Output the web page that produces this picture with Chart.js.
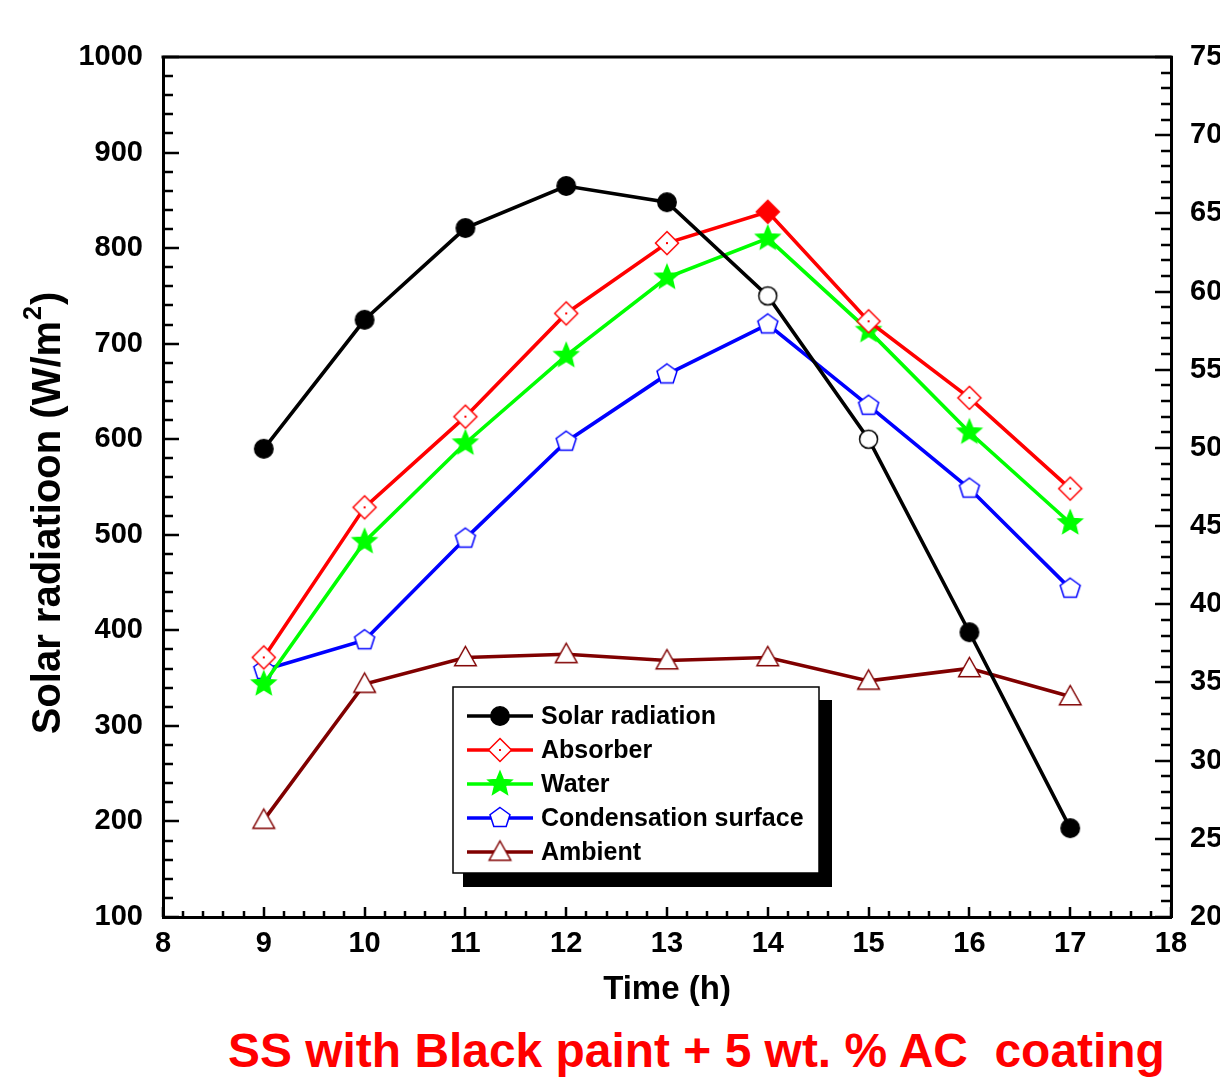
<!DOCTYPE html>
<html><head><meta charset="utf-8">
<script src="https://cdn.jsdelivr.net/npm/chart.js@4/dist/chart.umd.min.js"></script>
<style>
html,body{margin:0;padding:0;background:#fff;width:1220px;height:1079px;overflow:hidden}
#wrap{position:absolute;left:0;top:0;width:1220px;height:1010px}
#cap{position:absolute;left:228px;top:1027px;font-family:"Liberation Sans",Arial,sans-serif;font-weight:bold;font-size:48px;color:#f00;line-height:48px;white-space:pre}
</style></head><body>
<div id="wrap"><canvas id="c" width="1220" height="1010"></canvas></div>
<div id="cap">SS with Black paint + 5 wt. % AC  coating</div>
<script>
// ---- data ----
const hours = [9, 10, 11, 12, 13, 14, 15, 16, 17];
const solarRadiation = [590, 725, 821, 865, 848, 750, 600, 398, 193];
const absorberTemp = [36.6, 46.2, 52.0, 58.6, 63.1, 65.1, 58.1, 53.2, 47.4];
const waterTemp = [34.9, 44.0, 50.3, 55.9, 60.9, 63.4, 57.5, 51.0, 45.2];
const condensationTemp = [35.8, 37.7, 44.2, 50.4, 54.7, 57.9, 52.7, 47.4, 41.0];
const ambientTemp = [26.2, 34.9, 36.6, 36.8, 36.4, 36.6, 35.1, 35.9, 34.1];
const seriesNames = ['Solar radiation', 'Absorber', 'Water', 'Condensation surface', 'Ambient'];
const xTickRange = [8, 18];
const leftTickRange = [100, 1000];
const rightTickRange = [20, 75];

const FONT = '"Liberation Sans", Arial, sans-serif';

function marker(shape, fill, stroke, r, dot) {
  const s = Math.ceil(r * 2 + 5);
  const c = document.createElement('canvas');
  c.width = c.height = s;
  const g = c.getContext('2d');
  const cx = s / 2, cy = s / 2;
  g.beginPath();
  if (shape === 'circle') g.arc(cx, cy, r, 0, Math.PI * 2);
  else if (shape === 'diamond') { g.moveTo(cx, cy - r); g.lineTo(cx + r, cy); g.lineTo(cx, cy + r); g.lineTo(cx - r, cy); g.closePath(); }
  else if (shape === 'star') {
    for (let i = 0; i < 10; i++) { const a = -Math.PI / 2 + i * Math.PI / 5; const rr = i % 2 ? r * 0.45 : r; g.lineTo(cx + rr * Math.cos(a), cy + rr * Math.sin(a)); }
    g.closePath();
  } else if (shape === 'pentagon') {
    for (let i = 0; i < 5; i++) { const a = -Math.PI / 2 + i * 2 * Math.PI / 5; g.lineTo(cx + r * Math.cos(a), cy + r * Math.sin(a)); }
    g.closePath();
  } else if (shape === 'triangle') { g.moveTo(cx, cy - r); g.lineTo(cx + r * 0.98, cy + r * 0.75); g.lineTo(cx - r * 0.98, cy + r * 0.75); g.closePath(); }
  g.fillStyle = fill; g.fill();
  g.lineWidth = 1.5; g.strokeStyle = stroke; g.stroke();
  if (dot) { g.fillStyle = stroke; g.fillRect(cx - 1, cy - 1, 2, 2); }
  return c;
}

const mSolar = marker('circle', '#000', '#000', 9.2);
const mSolarHollow = marker('circle', '#fff', '#000', 9);
const mAbs = marker('diamond', '#fff', '#f00', 11.5, true);
const mAbsFilled = marker('diamond', '#f00', '#f00', 11.5);
const mWater = marker('star', '#00ff00', '#00ff00', 12.5);
const mCond = marker('pentagon', '#fff', '#0000ff', 10.5);
const mAmb = marker('triangle', '#fff', '#800000', 11);

const pts = arr => hours.map((h, i) => ({ x: h, y: arr[i] }));

const datasets = [
  { label: seriesNames[0], data: pts(solarRadiation), yAxisID: 'y', borderColor: '#000', backgroundColor: '#000',
    pointStyle: hours.map((h, i) => (i === 5 || i === 6) ? mSolarHollow : mSolar), legendMarker: mSolar },
  { label: seriesNames[1], data: pts(absorberTemp), yAxisID: 'y2', borderColor: '#ff0000', backgroundColor: '#ff0000',
    pointStyle: hours.map((h, i) => i === 5 ? mAbsFilled : mAbs), legendMarker: mAbs },
  { label: seriesNames[2], data: pts(waterTemp), yAxisID: 'y2', borderColor: '#00ff00', backgroundColor: '#00ff00',
    pointStyle: mWater, legendMarker: mWater },
  { label: seriesNames[3], data: pts(condensationTemp), yAxisID: 'y2', borderColor: '#0000ff', backgroundColor: '#0000ff',
    pointStyle: mCond, legendMarker: mCond },
  { label: seriesNames[4], data: pts(ambientTemp), yAxisID: 'y2', borderColor: '#800000', backgroundColor: '#800000',
    pointStyle: mAmb, legendMarker: mAmb }
];
datasets.forEach(d => { d.borderWidth = 3.6; d.pointRadius = 10; d.tension = 0; d.fill = false; });

const frame = {
  id: 'frame',
  beforeDatasetsDraw(chart) {
    const { ctx, chartArea: a, scales } = chart;
    ctx.save();
    ctx.strokeStyle = '#000';
    ctx.lineWidth = 2.5;
    ctx.beginPath();
    const xs = scales.x;
    for (let v = xTickRange[0]; v <= xTickRange[1] + 1e-9; v += 0.2) {
      const major = Math.abs(v - Math.round(v)) < 1e-6;
      const px = Math.round(xs.getPixelForValue(v));
      ctx.moveTo(px, a.bottom); ctx.lineTo(px, a.bottom - (major ? 10 : 6));
    }
    const yl = scales.y;
    for (let v = leftTickRange[0]; v <= leftTickRange[1]; v += 20) {
      const major = v % 100 === 0;
      const py = Math.round(yl.getPixelForValue(v));
      ctx.moveTo(a.left, py); ctx.lineTo(a.left + (major ? 16 : 10), py);
    }
    const yr = scales.y2;
    for (let v = rightTickRange[0]; v <= rightTickRange[1]; v += 1) {
      const major = v % 5 === 0;
      const py = Math.round(yr.getPixelForValue(v));
      ctx.moveTo(a.right, py); ctx.lineTo(a.right - (major ? 16 : 10), py);
    }
    ctx.stroke();
    ctx.lineWidth = 3;
    ctx.beginPath();
    ctx.moveTo(a.left - 1.5, a.top); ctx.lineTo(a.right + 1.5, a.top);
    ctx.stroke();
    ctx.restore();
  },
  afterDraw(chart) {
    const { ctx } = chart;
    ctx.save();
    ctx.translate(46, 514);
    ctx.rotate(-Math.PI / 2);
    ctx.fillStyle = '#000';
    const big = 'bold 40px ' + FONT, small = 'bold 25px ' + FONT;
    const t1 = 'Solar radiatioon (W/m', t2 = '2', t3 = ')';
    ctx.font = big; const w1 = ctx.measureText(t1).width, w3 = ctx.measureText(t3).width;
    ctx.font = small; const w2 = ctx.measureText(t2).width;
    let x = -(w1 + w2 + w3) / 2;
    ctx.textBaseline = 'alphabetic';
    ctx.font = big; ctx.fillText(t1, x, 14); x += w1;
    ctx.font = small; ctx.fillText(t2, x + 1, -5); x += w2 + 2;
    ctx.font = big; ctx.fillText(t3, x, 14);
    ctx.restore();

    const L = { x0: 453, y0: 687, x1: 819, y1: 873 };
    ctx.save();
    ctx.fillStyle = '#000';
    ctx.fillRect(L.x0 + 10, L.y0 + 13, L.x1 - L.x0 + 3, L.y1 - L.y0 + 1);
    ctx.fillStyle = '#fff';
    ctx.fillRect(L.x0, L.y0, L.x1 - L.x0, L.y1 - L.y0);
    ctx.strokeStyle = '#000'; ctx.lineWidth = 1.5;
    ctx.strokeRect(L.x0, L.y0, L.x1 - L.x0, L.y1 - L.y0);
    ctx.font = 'bold 25px ' + FONT;
    ctx.textBaseline = 'middle';
    chart.data.datasets.forEach((d, i) => {
      const cy = 716 + i * 34;
      ctx.strokeStyle = d.borderColor; ctx.lineWidth = 3.6;
      ctx.beginPath(); ctx.moveTo(467, cy); ctx.lineTo(533, cy); ctx.stroke();
      const m = d.legendMarker;
      ctx.drawImage(m, 500 - m.width / 2, cy - m.height / 2);
      ctx.fillStyle = '#000';
      ctx.fillText(d.label, 541, cy + 1);
    });
    ctx.restore();
  }
};

const tickFont = { family: FONT, size: 29, weight: 'bold' };
const plain = v => String(v);

new Chart(document.getElementById('c'), {
  type: 'line',
  data: { datasets },
  options: {
    responsive: false,
    animation: false,
    layout: { padding: { top: 57, left: 0, right: 0, bottom: 0 } },
    plugins: { legend: { display: false }, tooltip: { enabled: false } },
    scales: {
      x: {
        type: 'linear', position: 'bottom', min: xTickRange[0], max: xTickRange[1],
        ticks: { stepSize: 1, color: '#000', font: tickFont, padding: 10, callback: plain },
        grid: { display: false, drawTicks: false },
        border: { display: true, color: '#000', width: 3 },
        title: { display: true, text: 'Time (h)', color: '#000', font: { family: FONT, size: 33, weight: 'bold' }, padding: 0 },
        afterFit: s => { s.height = 93; }
      },
      y: {
        type: 'linear', position: 'left', min: leftTickRange[0], max: leftTickRange[1],
        ticks: { stepSize: 100, color: '#000', font: tickFont, padding: 20, callback: plain },
        grid: { display: false, drawTicks: false },
        border: { display: true, color: '#000', width: 3 },
        afterFit: s => { s.width = 163; }
      },
      y2: {
        type: 'linear', position: 'right', min: rightTickRange[0], max: rightTickRange[1],
        ticks: { stepSize: 5, color: '#000', font: tickFont, padding: 19, callback: plain },
        grid: { display: false, drawTicks: false },
        border: { display: true, color: '#000', width: 3 },
        afterFit: s => { s.width = 49; }
      }
    }
  },
  plugins: [frame]
});

const cap = document.getElementById('cap');
const w = cap.getBoundingClientRect().width;
cap.style.fontSize = (48 * 937 / w).toFixed(2) + 'px';
</script>
</body></html>
